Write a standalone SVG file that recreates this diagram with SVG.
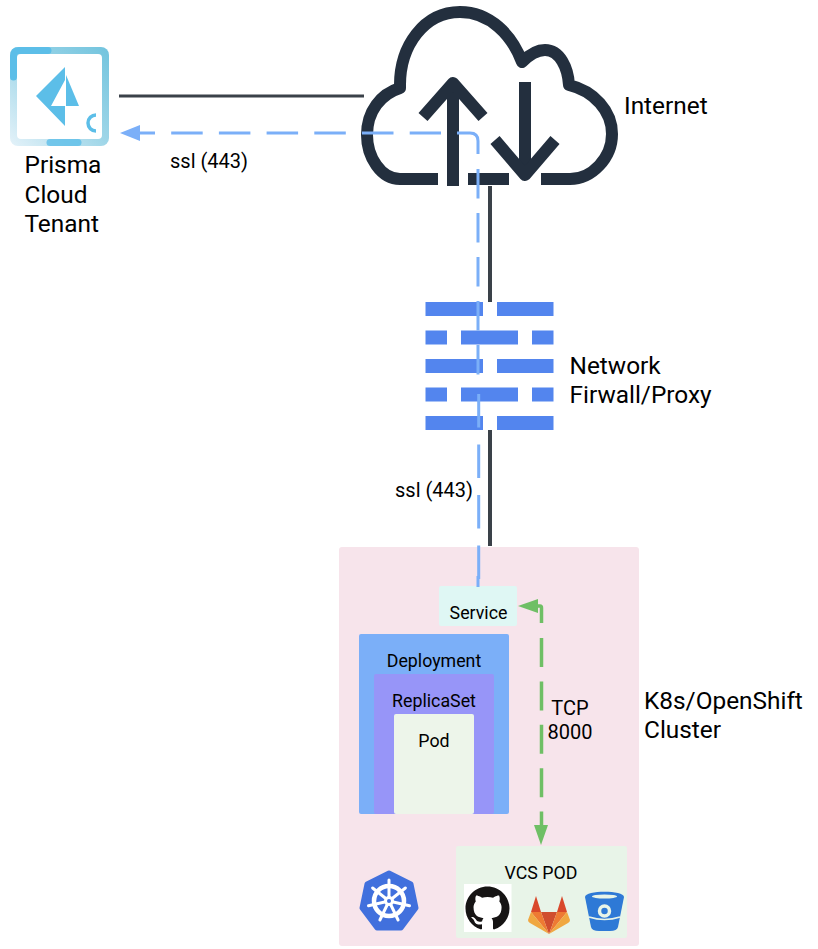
<svg xmlns="http://www.w3.org/2000/svg" width="818" height="949" viewBox="0 0 818 949">
<style>
text{font-family:Roboto,"Liberation Sans",sans-serif;fill:#000}
.lg{font-size:24.400px}.md{font-size:20px}.sm{font-size:17.800px}.mid{text-anchor:middle}
.cloud{fill:none;stroke:#232F3E;stroke-width:12}
.bar{fill:#5385EE}
.blue{stroke:#7BAFF8;stroke-width:3}
.green{stroke:#6FBF65;stroke-width:3.500}
.black{stroke:#3A4149;stroke-width:4}
</style>
<defs>
<linearGradient id="frame" x1="0" y1="1" x2="1" y2="0"><stop offset="0" stop-color="#E4F2F9"/><stop offset=".5" stop-color="#9FD6E8"/><stop offset="1" stop-color="#72C4DE"/></linearGradient>
<marker id="blueHead" markerUnits="userSpaceOnUse" markerWidth="20" markerHeight="16" refX="20" refY="8" orient="auto" viewBox="0 0 20 16"><path d="M0 0V16L20 8Z" fill="#7BAFF8"/></marker>
<marker id="greenHead" markerUnits="userSpaceOnUse" markerWidth="20" markerHeight="14" refX="20" refY="7" orient="auto" viewBox="0 0 20 14"><path d="M0 0V14L20 7Z" fill="#6FBF65"/></marker>
</defs>
<g id="prisma-tenant">
<rect x="10" y="47" width="99" height="99" rx="8" fill="url(#frame)"/>
<path d="M13.500 77V56Q13.500 50.500 19 50.500H48" fill="none" stroke="#5CBEE8" stroke-width="7" stroke-linecap="round"/>
<path d="M50 142.500H78" fill="none" stroke="#5CBEE8" stroke-width="7" stroke-linecap="round" opacity=".8"/>
<rect x="17" y="54" width="85" height="85" rx="4" fill="#fff"/>
<path d="M65 67V80L51 106H65V126L36 96Z" fill="#5CBEE8"/>
<path d="M66 75L79 106H66Z" fill="#5CBEE8"/>
<path d="M96 115A8 8 0 0 0 96 131" fill="none" stroke="#5CBEE8" stroke-width="3.500"/>
<text class="lg" x="24.500" y="173">Prisma</text>
<text class="lg" x="24.500" y="202.500">Cloud</text>
<text class="lg" x="24.500" y="231.500">Tenant</text>
</g>
<g id="internet">
<path class="cloud" stroke-linejoin="round" d="M438 179H400C381 179 367 157 367 135C367 111 381 94 400 88C399 45 425 12 460 12C490 12 512 35 522 62C529 55 537 50 545 50C560 50 568 68 569 85C594 91 612 111 612 134C612 158 592 179 570 179H541"/>
<path class="cloud" d="M468 179H509"/>
<path class="cloud" d="M453 186V85"/>
<path class="cloud" stroke-linejoin="round" d="M423 117L453 83L483 117"/>
<path class="cloud" d="M525 82V175"/>
<path class="cloud" stroke-linejoin="round" d="M495 140L525 175L555 140"/>
<text class="lg" x="624" y="114">Internet</text>
</g>
<g id="firewall">
<rect class="bar" x="425.500" y="302" width="57.500" height="14"/><rect class="bar" x="497" y="302" width="56.500" height="14"/>
<rect class="bar" x="425.500" y="330.500" width="21.500" height="14"/><rect class="bar" x="461" y="330.500" width="57" height="14"/><rect class="bar" x="532" y="330.500" width="21.500" height="14"/>
<rect class="bar" x="425.500" y="359" width="57.500" height="14"/><rect class="bar" x="497" y="359" width="56.500" height="14"/>
<rect class="bar" x="425.500" y="387.500" width="21.500" height="14"/><rect class="bar" x="461" y="387.500" width="57" height="14"/><rect class="bar" x="532" y="387.500" width="21.500" height="14"/>
<rect class="bar" x="425.500" y="416" width="57.500" height="14"/><rect class="bar" x="497" y="416" width="56.500" height="14"/>
<text class="lg" x="569.500" y="374">Network</text>
<text class="lg" x="569.500" y="403">Firwall/Proxy</text>
</g>
<g id="cluster">
<rect x="339" y="547" width="300" height="399" rx="3" fill="#F7E4EB"/>
<text class="lg" x="644" y="709">K8s/OpenShift</text>
<text class="lg" x="644" y="738">Cluster</text>
</g>
<g id="kubernetes-logo">
<path d="M389 873L411 884L416 908L401 928H377L362 908L367 884Z" fill="#4170DD" stroke="#4170DD" stroke-width="5" stroke-linejoin="round"/>
<g fill="none" stroke="#fff" stroke-linecap="round">
<circle cx="389" cy="901" r="15" stroke-width="4.500"/>
<path stroke-width="3" d="M389 880V901M372.600 888L389 901M405.400 888L389 901M368.500 905.700L389 901M409.500 905.700L389 901M379.900 920L389 901M398.100 920L389 901"/>
</g>
<circle cx="389" cy="901" r="5" fill="#fff"/>
<circle cx="389" cy="901" r="2" fill="#4170DD"/>
</g>
<g id="service">
<rect x="439" y="586" width="78" height="40" rx="2" fill="#DFF7F4"/>
<text class="sm mid" x="478.500" y="618.500">Service</text>
</g>
<g id="deployment">
<rect x="359" y="634" width="150" height="180" rx="2" fill="#7BAFF8"/>
<text class="sm mid" x="434" y="667">Deployment</text>
</g>
<g id="replicaset">
<rect x="374" y="674" width="120" height="140" rx="2" fill="#9795F8"/>
<text class="sm mid" x="434" y="707">ReplicaSet</text>
</g>
<g id="pod">
<rect x="394" y="714" width="80" height="100" rx="2" fill="#EDF5EA"/>
<text class="sm mid" x="434" y="747">Pod</text>
</g>
<g id="vcs-pod">
<rect x="456" y="846" width="171" height="92" rx="2" fill="#E8F4E8"/>
<text class="sm mid" x="541" y="878.500">VCS POD</text>
<g id="github-logo">
<rect x="464" y="884" width="47.500" height="48" fill="#fff"/>
<path transform="translate(465.500 886.500) scale(2.750)" fill="#161414" d="M8 0C3.580 0 0 3.580 0 8c0 3.540 2.290 6.530 5.470 7.590.4.070.55-.17.55-.38 0-.19-.01-.82-.01-1.490-2.010.37-2.530-.49-2.690-.94-.09-.23-.48-.94-.82-1.130-.28-.15-.68-.52-.01-.53.63-.01 1.080.58 1.230.82.72 1.210 1.870.87 2.330.66.07-.52.28-.87.51-1.070-1.780-.2-3.640-.89-3.640-3.950 0-.87.31-1.590.82-2.150-.08-.2-.36-1.020.08-2.120 0 0 .67-.21 2.200.82.64-.18 1.320-.27 2-.27.68 0 1.360.09 2 .27 1.530-1.040 2.200-.82 2.200-.82.44 1.100.16 1.920.08 2.120.51.56.82 1.270.82 2.150 0 3.070-1.870 3.750-3.650 3.950.29.25.54.73.54 1.480 0 1.070-.01 1.930-.01 2.200 0 .21.15.46.55.38A8.013 8.013 0 0 0 16 8c0-4.420-3.580-8-8-8z"/>
</g>
<g id="gitlab-logo">
<path d="M536 896L531 912H541Z" fill="#D9482B"/>
<path d="M562 896L567 912H557Z" fill="#D9482B"/>
<path d="M541 912H557L549 934Z" fill="#D04E2F"/>
<path d="M531 912H541L549 934Z" fill="#EE7A33"/>
<path d="M567 912H557L549 934Z" fill="#EE7A33"/>
<path d="M531 912L528 920Q528 922 530 923L549 934Z" fill="#F0A741"/>
<path d="M567 912L570 920Q570 922 568 923L549 934Z" fill="#F0A741"/>
</g>
<g id="bitbucket-logo">
<path d="M585 897C585 890 624 890 624 897L618 927Q617 931 610 931H599Q592 931 591 927Z" fill="#2E79D6"/>
<ellipse cx="604.500" cy="896.500" rx="12.500" ry="2" fill="#E8F4E8"/>
<circle cx="604.500" cy="911" r="5" fill="none" stroke="#E8F4E8" stroke-width="3.500"/>
<path d="M589 917Q604.500 922 620 917" fill="none" stroke="#E8F4E8" stroke-width="1.500"/>
</g>
</g>
<g id="connectors" fill="none">
<path class="black" stroke-width="3" style="stroke-width:3" d="M119 96H364"/>
<path class="black" d="M490 186V302"/>
<path class="black" d="M490 430V546"/>
<path class="blue" d="M138 133H441" stroke-dasharray="31.500 16.200" stroke-dashoffset="14.500"/>
<path class="blue" d="M457 133H470Q478 133 478 141V154"/>
<path class="blue" d="M478 169V375" stroke-dasharray="29.500 14.500"/>
<path class="blue" d="M478.700 394V579" stroke-dasharray="33.500 17"/>
<path class="blue" d="M478 576V587"/>
<path d="M138 133H120" stroke="none" marker-end="url(#blueHead)"/>
<path class="green" d="M538 606H540Q541.500 606 541.500 608V623"/>
<path class="green" d="M541.500 638V827" stroke-dasharray="29 14.400"/>
<path d="M538 606H518" stroke="none" marker-end="url(#greenHead)"/>
<path d="M541 825V845" stroke="none" marker-end="url(#greenHead)"/>
<text class="md" x="170" y="167.500">ssl (443)</text>
<text class="md" x="395" y="496.500">ssl (443)</text>
<text class="md mid" x="570" y="714.500">TCP</text>
<text class="md mid" x="570" y="739">8000</text>
</g>
</svg>
